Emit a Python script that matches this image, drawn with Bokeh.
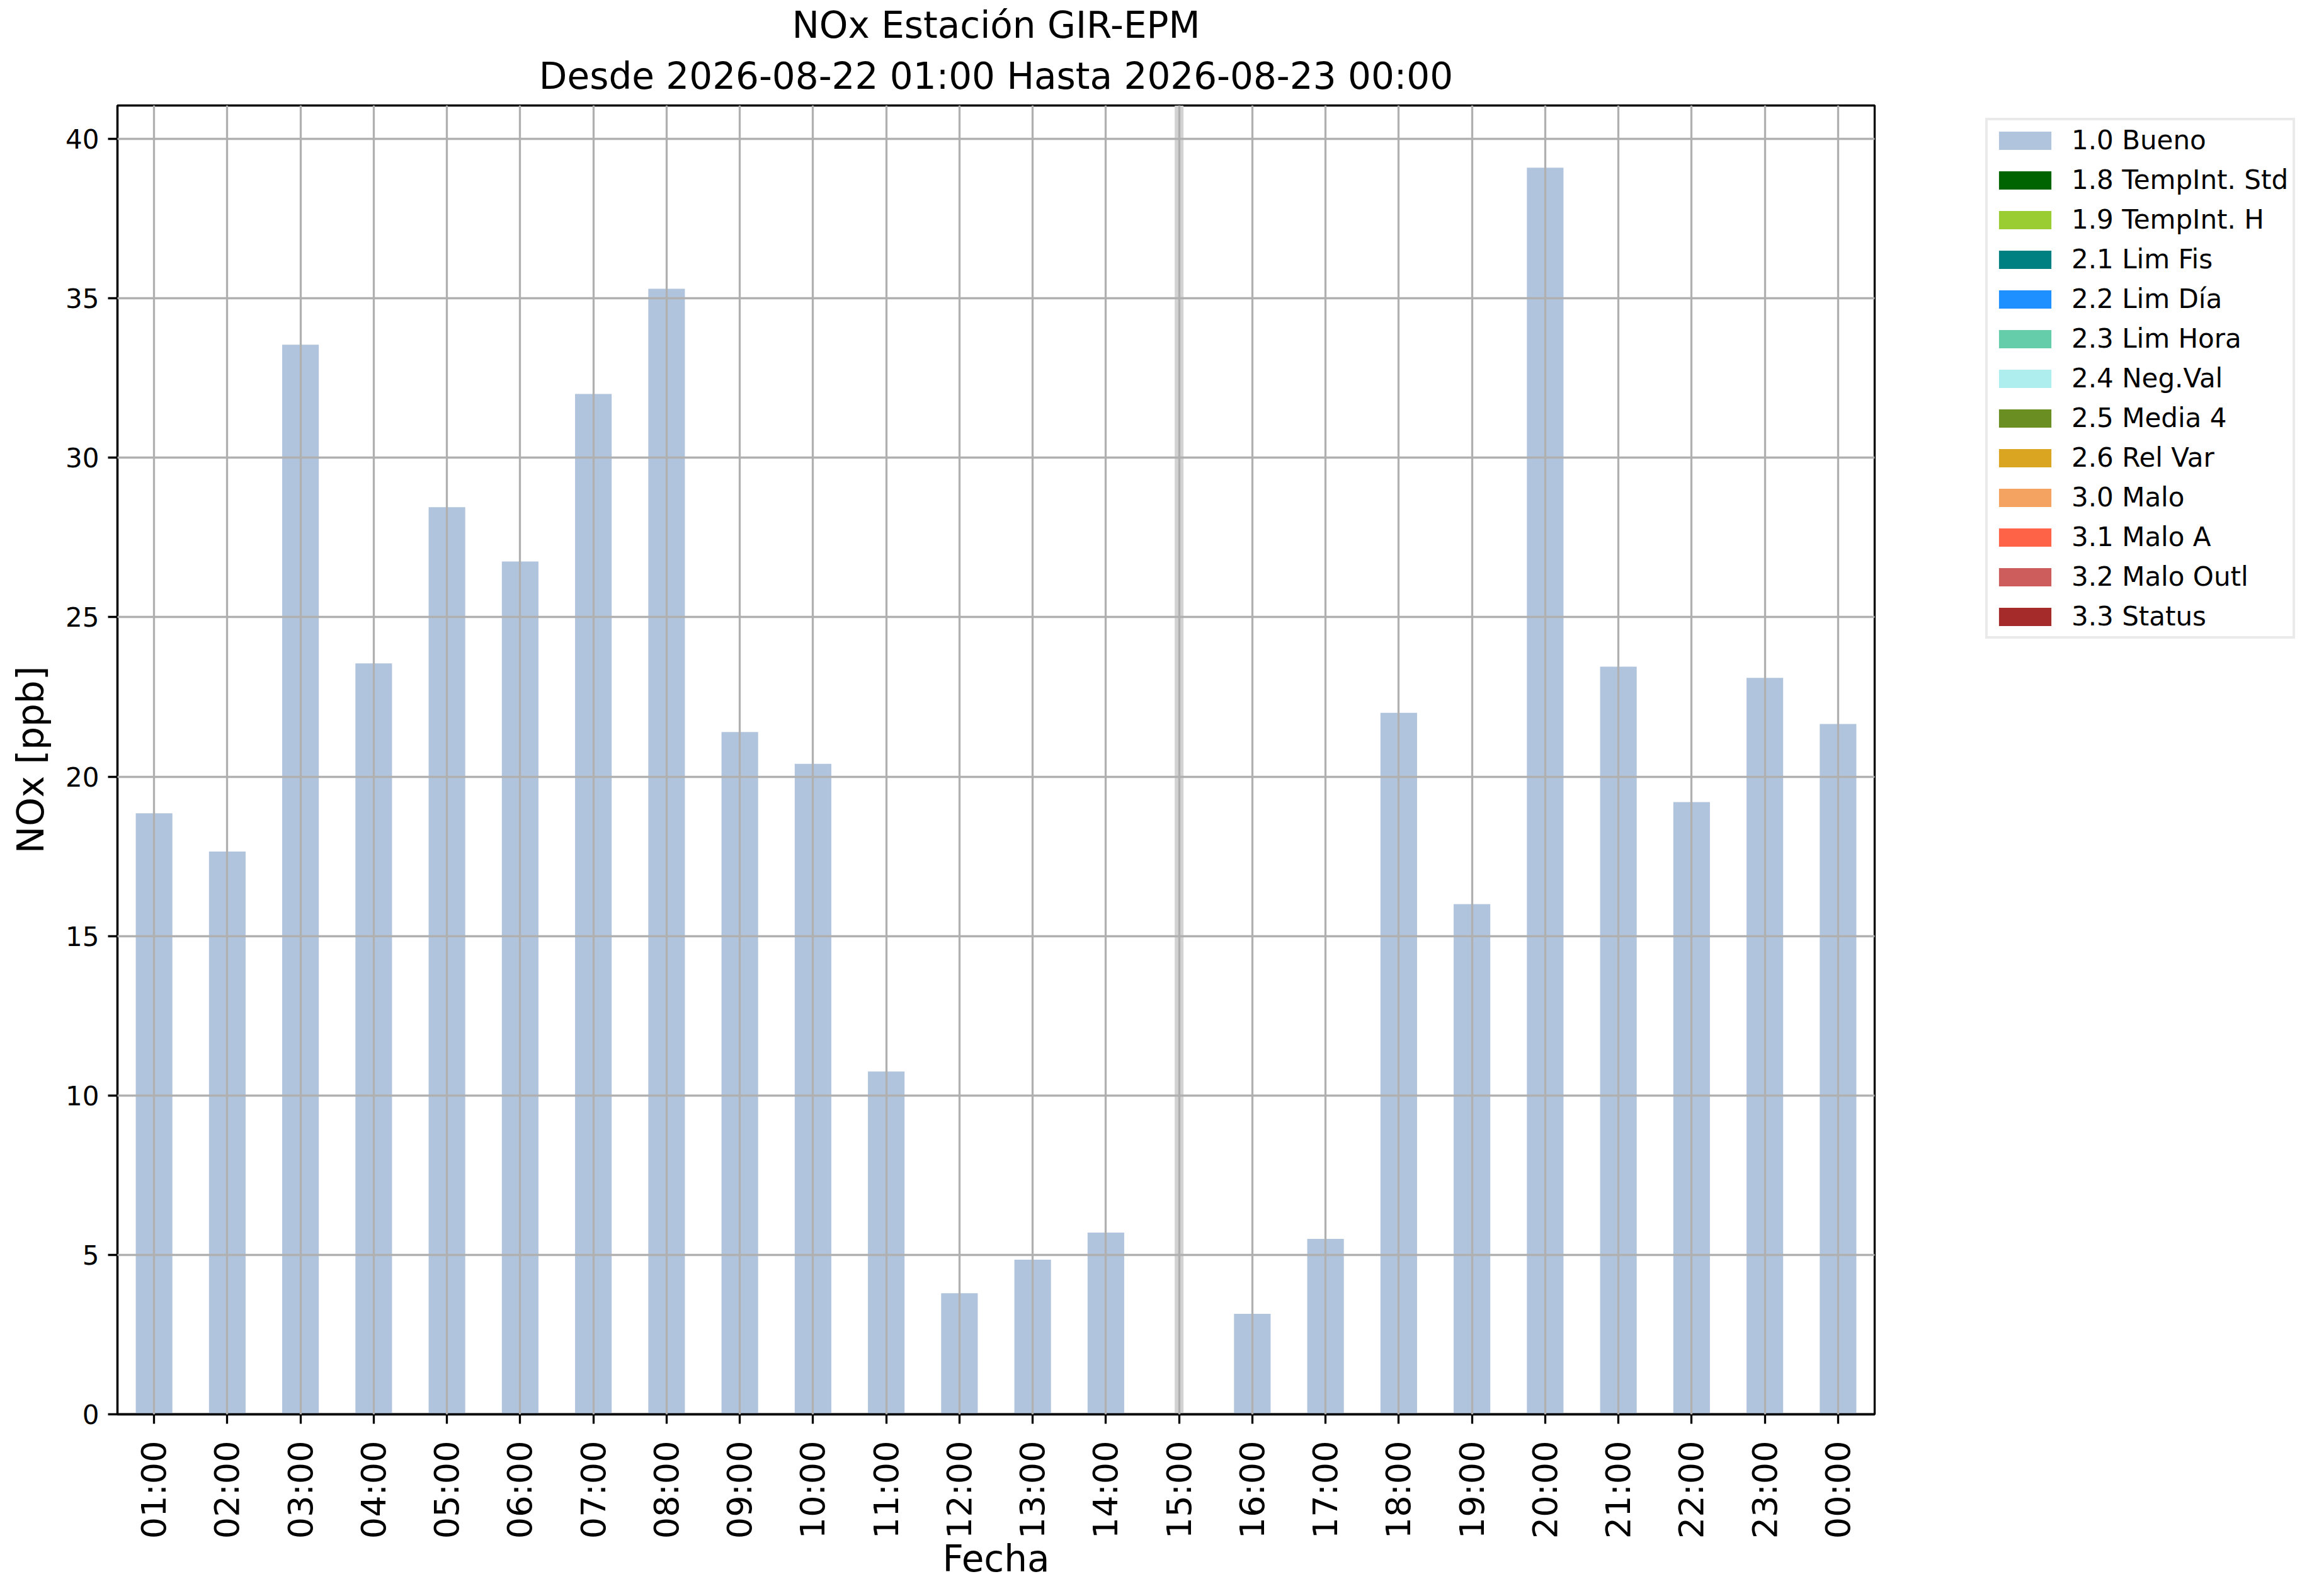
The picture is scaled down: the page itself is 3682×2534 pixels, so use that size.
import math
from bokeh.plotting import figure
from bokeh.models import (FactorRange, Range1d, Span, Legend, LegendItem, Title,
                          SingleIntervalTicker, ColumnDataSource)
from bokeh.embed import file_html
from bokeh.resources import INLINE

horas = ["01:00", "02:00", "03:00", "04:00", "05:00", "06:00", "07:00", "08:00",
         "09:00", "10:00", "11:00", "12:00", "13:00", "14:00", "15:00", "16:00",
         "17:00", "18:00", "19:00", "20:00", "21:00", "22:00", "23:00", "00:00"]
nox = [18.85, 17.65, 33.55, 23.55, 28.45, 26.75, 32.0, 35.3,
       21.4, 20.4, 10.75, 3.8, 4.85, 5.7, float("nan"), 3.15,
       5.5, 22.0, 16.0, 39.1, 23.45, 19.2, 23.1, 21.65]
flag_labels = ["1.0 Bueno", "1.8 TempInt. Std", "1.9 TempInt. H", "2.1 Lim Fis",
               "2.2 Lim Día", "2.3 Lim Hora", "2.4 Neg.Val", "2.5 Media 4",
               "2.6 Rel Var", "3.0 Malo", "3.1 Malo A", "3.2 Malo Outl", "3.3 Status"]
flag_colors = ["#B0C4DE", "#006400", "#9ACD32", "#008080", "#1E90FF", "#66CDAA",
               "#AFEEEE", "#6B8E23", "#DAA520", "#F4A460", "#FF6347", "#CD5C5C",
               "#A52A2A"]
titulo_1 = "NOx Estación GIR-EPM"
titulo_2 = "Desde 2026-08-22 01:00 Hasta 2026-08-23 00:00"
hora_marcada = "15:00"
y_max = 41.05

FONT = "DejaVu Sans"

p = figure(x_range=FactorRange(factors=horas), y_range=Range1d(0, y_max),
           frame_width=2790, frame_height=2078,
           min_border_left=186, min_border_top=167,
           min_border_right=690, min_border_bottom=273,
           output_backend="svg", toolbar_location=None, tools="",
           background_fill_color="white", border_fill_color="white")

# Titles
p.add_layout(Title(text=titulo_2, align="center", text_font=FONT,
                   text_font_size="58px", text_font_style="normal",
                   text_color="black", standoff=26), "above")
p.add_layout(Title(text=titulo_1, align="center", text_font=FONT,
                   text_font_size="58px", text_font_style="normal",
                   text_color="black", standoff=-5), "above")

# marker line
span = Span(location=horas.index(hora_marcada) + 0.5, dimension="height",
            line_color="#d3d3d3", line_width=14, level="underlay")
p.add_layout(span)

src = ColumnDataSource(dict(x=horas, top=nox))
renderers = []
r0 = p.vbar(x="x", top="top", width=0.5, source=src, fill_color=flag_colors[0],
            line_color=None)
renderers.append(r0)
for c in flag_colors[1:]:
    # flag categories with no samples in this period (no bar drawn)
    r = p.vbar(x=[horas[0]], top=[float("nan")], width=0.5, fill_color=c,
               line_color=None)
    renderers.append(r)

items = [LegendItem(label=l, renderers=[r], index=0)
         for l, r in zip(flag_labels, renderers)]
legend = Legend(items=items, location=(176, 1231),
                label_text_font=FONT, label_text_font_size="42px",
                label_text_color="black",
                glyph_width=104, glyph_height=36, label_standoff=22,
                spacing=14, padding=7, margin=0,
                border_line_color="#d6d6d6", border_line_width=4,
                background_fill_color="white", background_fill_alpha=1.0)
p.add_layout(legend, "right")

# grid
for g in (p.xgrid, p.ygrid):
    g.grid_line_color = "#b0b0b0"
    g.grid_line_width = 3.3
    g.level = "overlay"

# outline
p.outline_line_color = "black"
p.outline_line_width = 3.3
p.outline_line_alpha = 1.0

# axes
p.yaxis.ticker = SingleIntervalTicker(interval=5)
p.yaxis.minor_tick_line_color = None
for ax in (p.xaxis, p.yaxis):
    ax.axis_line_color = "black"
    ax.axis_line_width = 3.3
    ax.major_tick_line_color = "black"
    ax.major_tick_line_width = 3.3
    ax.major_tick_out = 15
    ax.major_tick_in = 0
    ax.major_label_text_font = FONT
    ax.major_label_text_color = "black"
    ax.axis_label_text_font = FONT
    ax.axis_label_text_font_style = "normal"
    ax.axis_label_text_font_size = "58px"
    ax.axis_label_text_color = "black"

p.xaxis.major_label_text_font_size = "54px"
p.xaxis.major_label_orientation = math.pi / 2
p.xaxis.major_label_standoff = 27
p.xaxis.axis_label = "Fecha"
p.xaxis.axis_label_standoff = -5

p.yaxis.major_label_text_font_size = "42px"
p.yaxis.major_label_standoff = 14
p.yaxis.axis_label = "NOx [ppb]"
p.yaxis.axis_label_standoff = 18

open("out.html", "w").write(file_html(p, INLINE))
